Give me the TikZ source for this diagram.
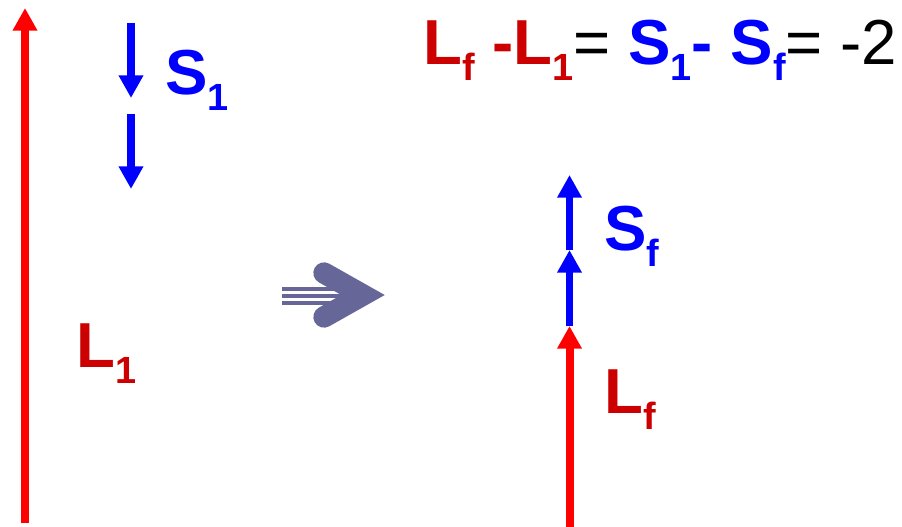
\documentclass[tikz,border=0pt]{standalone}
\usepackage{fontspec}
\setmainfont{Liberation Sans}
\usetikzlibrary{arrows.meta}
\definecolor{bred}{HTML}{FF0000}
\definecolor{dred}{HTML}{CC0000}
\definecolor{bblue}{HTML}{0000FF}
\definecolor{slate}{HTML}{666699}
\newcommand{\bigf}{\fontsize{47.7}{50}\selectfont}
\newcommand{\subx}[1]{\raisebox{-12pt}{\fontsize{28.4}{30}\selectfont #1}}
\begin{document}
\begin{tikzpicture}[x=0.75pt,y=-0.75pt,
  vec/.style={line width=6pt,-{Triangle[length=17pt,width=17.5pt]}},
  redvec/.style={vec,draw=bred},
  bluevec/.style={vec,draw=bblue,line width=5.5pt},
  lbl/.style={anchor=base west,inner sep=0pt,font=\bigf\bfseries}
]
\useasboundingbox (0,0) rectangle (902,527);
% left red vector L1
\coordinate (l1s) at (25,523);
\coordinate (l1e) at (25,8);
\draw[redvec] (l1s) -- (l1e);
% S1 blue vectors
\coordinate (s1a) at (131,23);
\coordinate (s1b) at (131,98);
\coordinate (s1c) at (131,114);
\coordinate (s1d) at (131,189);
\draw[bluevec] (s1a) -- (s1b);
\draw[bluevec] (s1c) -- (s1d);
% labels
\node[lbl,text=bblue] (S1) at (165,95) {S\subx{1}};
\node[lbl,text=dred] (L1) at (76,367) {L\subx{1}};
% right side
\coordinate (lfs) at (569.5,527);
\coordinate (lfe) at (569.5,326);
\coordinate (sfm) at (569.5,250);
\coordinate (sft) at (569.5,175);
\draw[redvec] (lfs) -- (lfe);
\draw[bluevec] (lfe) -- (sfm);
\draw[bluevec] (sfm) -- (sft);
\node[lbl,text=bblue] (Sf) at (604,250) {S\subx{f}};
\node[lbl,text=dred] (Lf) at (604,413) {L\subx{f}};
% equation
\node[anchor=base west,inner sep=0pt,font=\bigf] (eq) at (423,65)
 {\textbf{\color{dred}L\subx{f} -L\subx{1}}=
  \textbf{\color{bblue}S\subx{1}- S\subx{f}}= -2};
% middle implication arrow
\coordinate (ma) at (282,289);
\coordinate (mb) at (282,296);
\coordinate (mc) at (282,303);
\coordinate (ma2) at (350,289);
\coordinate (mb2) at (355,296);
\coordinate (mc2) at (350,303);
\draw[slate,line width=2.8pt] (ma) -- (ma2) (mb) -- (mb2) (mc) -- (mc2);
\coordinate (ch1) at (324,273);
\coordinate (ch2) at (363,295);
\coordinate (ch3) at (324,317);
\draw[slate,line width=16pt,line cap=round,line join=miter,miter limit=10] (ch1) -- (ch2) -- (ch3);
\end{tikzpicture}
\end{document}
